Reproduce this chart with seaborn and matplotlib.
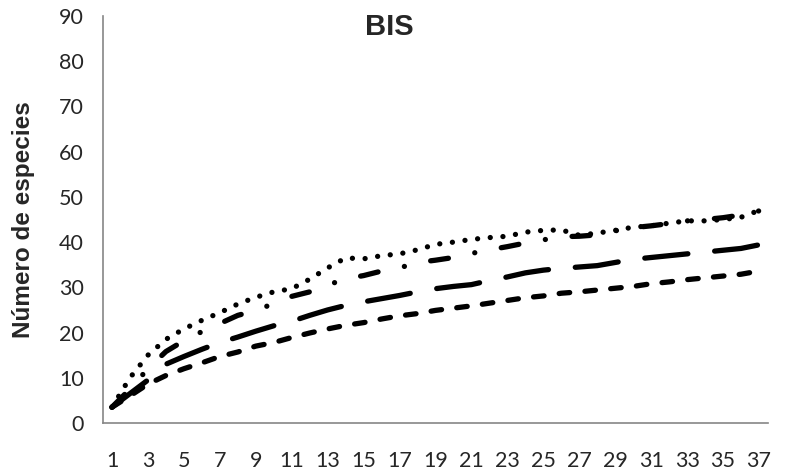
import matplotlib
matplotlib.use("Agg")
import matplotlib.pyplot as plt
import numpy as np
import pandas as pd
import seaborn as sns

# ---- data ----
muestras = list(range(1, 38))
xtick_labels = [str(i) for i in range(1, 38, 2)]
yticks = list(range(0, 91, 10))

serie_punteada = [3.5, 10.0, 15.0, 18.5, 20.8, 22.7, 24.4, 26.3, 27.8, 29.0,
                  29.7, 31.8, 34.3, 36.5, 36.3, 37.0, 37.4, 38.3, 39.5, 40.0,
                  40.6, 41.0, 41.3, 42.2, 42.6, 42.7, 41.5, 42.0, 42.6, 43.3,
                  43.6, 44.2, 44.7, 44.7, 45.0, 45.5, 47.0]
serie_raya_punto = [3.5, 7.5, 12.0, 15.8, 18.2, 20.2, 22.0, 23.8, 24.9, 26.4,
                    28.0, 29.0, 30.5, 31.9, 32.6, 33.6, 34.3, 35.5, 36.0, 36.6,
                    37.5, 38.3, 39.0, 39.8, 40.5, 41.2, 41.3, 41.6, 42.5, 43.2,
                    43.6, 44.1, 44.7, 45.0, 45.4, 46.0, 46.9]
serie_raya_larga = [3.5, 6.5, 9.5, 13.0, 14.7, 16.3, 17.8, 19.0, 20.3, 21.5,
                    22.5, 23.8, 25.0, 26.0, 26.8, 27.5, 28.2, 29.0, 29.7, 30.2,
                    30.6, 31.5, 32.3, 33.2, 33.8, 34.2, 34.5, 34.8, 35.5, 36.2,
                    36.6, 37.0, 37.4, 37.8, 38.2, 38.6, 39.4]
serie_raya_corta = [3.5, 6.0, 8.6, 10.5, 12.0, 13.3, 14.7, 15.7, 17.0, 17.8,
                    18.9, 19.9, 20.8, 21.6, 22.2, 23.0, 23.7, 24.2, 24.9, 25.4,
                    25.9, 26.5, 27.1, 27.7, 28.1, 28.7, 29.0, 29.4, 29.8, 30.2,
                    30.8, 31.2, 31.7, 32.1, 32.5, 32.9, 33.6]

sns.set_style("white")
plt.rcParams["font.family"] = ["Liberation Sans", "DejaVu Sans"]

W, H = 786, 473
fig = plt.figure(figsize=(W / 100, H / 100), dpi=100)
left, right, top, bottom = 103, 768, 16, 423
ax = fig.add_axes([left / W, 1 - bottom / H, (right - left) / W, (bottom - top) / H])

styles = [
    (serie_punteada, (0, (0.01, 2.4))),
    (serie_raya_punto, (0, (3.4, 5.1, 0.01, 5.1))),
    (serie_raya_larga, (0, (8.2, 5.1))),
    (serie_raya_corta, (0, (2.0, 2.9))),
]
for vals, ls in styles:
    sns.lineplot(x=muestras, y=vals, ax=ax, color="black", linewidth=3.8,
                 linestyle=ls, dash_capstyle="round", solid_capstyle="round",
                 legend=False)

ax.set_xlim(0.5, 37.5)
ax.set_ylim(0, 90)

gray = "#868686"
for s in ["top", "right"]:
    ax.spines[s].set_visible(False)
for s in ["left", "bottom"]:
    ax.spines[s].set_color(gray)
    ax.spines[s].set_linewidth(1.2)

ax.set_xticks(list(range(1, 38, 2)))
ax.set_xticklabels(xtick_labels)
ax.set_xticks(np.arange(0.5, 38.0, 1.0), minor=True)
ax.tick_params(axis="x", which="major", length=0, pad=20, labelsize=15.5)
ax.tick_params(axis="x", which="minor", length=6, width=1.2, color=gray, direction="out")
ax.set_yticks(yticks)
ax.tick_params(axis="y", which="major", length=6, width=1.2, color=gray,
               direction="out", pad=8, labelsize=15.5)
for lab in ax.get_xticklabels() + ax.get_yticklabels():
    lab.set_fontfamily(["Lato", "DejaVu Sans"])

ax.set_xlabel("")
ax.set_ylabel("Número de especies", fontsize=17.5, fontweight="bold")
ax.yaxis.set_label_coords((35 - left) / (right - left), 0.5)

fig.text(389 / W, 1 - 27 / H, "BIS", ha="center", va="center",
         fontsize=21, fontweight="bold")

fig.savefig("out.png", dpi=100, facecolor="white")
